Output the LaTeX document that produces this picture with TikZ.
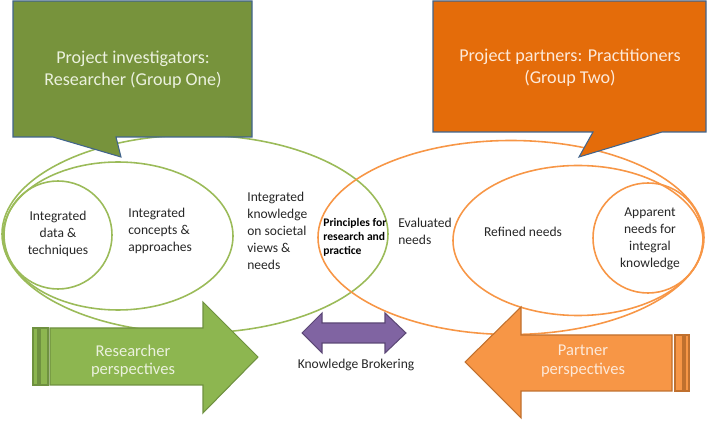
\documentclass[tikz,border=0pt]{standalone}
\usepackage{fontspec}
\setmainfont{Carlito}
\usetikzlibrary{positioning}
\definecolor{ink}{HTML}{262626}
\definecolor{leaf}{HTML}{9BBB59}
\definecolor{rust}{HTML}{F79646}
\definecolor{olivebox}{HTML}{77933C}
\definecolor{orangebox}{HTML}{E46C0A}
\definecolor{frame}{HTML}{41648C}
\definecolor{leafarrow}{HTML}{8DB650}
\definecolor{leafedge}{HTML}{6F9140}
\definecolor{rustedge}{HTML}{C0702E}
\definecolor{grape}{HTML}{8064A2}
\definecolor{grapeedge}{HTML}{5C4876}
\definecolor{paleleaf}{HTML}{EBF1DE}
\definecolor{palerust}{HTML}{FDE9D9}
\tikzset{
  ring/.style={line width=0.9pt},
  txt/.style={text=ink, inner sep=0pt, font=\fontsize{7.7}{9.7}\selectfont},
  big/.style={inner sep=0pt, align=center, font=\fontsize{10.3}{12.5}\selectfont},
}
\begin{document}
\begin{tikzpicture}[x=0.2mm, y=-0.2mm]
  \useasboundingbox (0,0) rectangle (708,421);
  % researcher side
  \draw[ring, leaf] (195,234) ellipse [x radius=193, y radius=99];
  \draw[ring, leaf] (118,236) ellipse [x radius=115, y radius=74];
  \draw[ring, leaf] (58,235) ellipse [x radius=54, y radius=54];
  % partner side
  \draw[ring, rust] (511,237.5) ellipse [x radius=193, y radius=97];
  \draw[ring, rust] (578,240.5) ellipse [x radius=125, y radius=75];
  \draw[ring, rust] (648,238) ellipse [x radius=55, y radius=55];
  % callouts
  \fill[olivebox, draw=frame, line width=0.6pt] (13,1) -- (252,1) -- (252,137) -- (116,137)
    -- (121,157) -- (53,137) -- (13,137) -- cycle;
  \fill[orangebox, draw=frame, line width=0.6pt] (433,1) -- (706,1) -- (706,132) -- (662,132)
    -- (579,157) -- (593,132) -- (433,132) -- cycle;
  \node[big, text=paleleaf] (grp1) at (133,70) {Project investigators:\\Researcher (Group One)};
  \node[big, text=palerust] (grp2) at (570,68) {Project partners: Practitioners\\(Group Two)};
  % perspective arrows
  \fill[leafarrow, draw=leafedge, line width=0.6pt] (50,328) -- (203,328) -- (203,302) -- (258,357)
    -- (203,413) -- (203,385) -- (50,385) -- cycle;
  \fill[leafarrow, draw=leafedge, line width=0.6pt] (33,328) rectangle (38,385);
  \fill[leafarrow, draw=leafedge, line width=0.6pt] (40,328) rectangle (48,385);
  \fill[rust, draw=rustedge, line width=0.6pt] (465,362) -- (521,307) -- (521,335) -- (672,335)
    -- (672,391) -- (521,391) -- (521,418) -- cycle;
  \fill[rust, draw=rustedge, line width=0.6pt] (675,335) rectangle (683,391);
  \fill[rust, draw=rustedge, line width=0.6pt] (685,335) rectangle (689,391);
  \fill[grape, draw=grapeedge, line width=0.6pt] (302,333) -- (322,313) -- (322,323) -- (385,323)
    -- (385,313) -- (406,333) -- (385,353) -- (385,343) -- (322,343) -- (322,353) -- cycle;
  \node[big, text=paleleaf, font=\fontsize{9.4}{10.4}\selectfont] (resp) at (133,361) {Researcher\\perspectives};
  \node[big, text=palerust, font=\fontsize{9.4}{10.4}\selectfont] (parp) at (583,361) {Partner\\perspectives};
  \node[txt] (brok) at (356,365) {Knowledge Brokering};
  % texts in the rings
  \node[txt, align=center] (data) at (58,234) {Integrated\\data \&\\techniques};
  \node[txt, align=left, anchor=west] (conc) at (128,231) {Integrated\\concepts \&\\approaches};
  \node[txt, align=left, anchor=west] (soc) at (247,231) {Integrated\\knowledge\\on societal\\views \&\\needs};
  \node[txt, align=left, anchor=west, font=\bfseries\fontsize{6.6}{8}\selectfont, text=black] (prin) at (323,237)
    {Principles for\\research and\\practice};
  \node[txt, align=left, anchor=west] (eval) at (398,231) {Evaluated\\needs};
  \node[txt] (refn) at (523,232) {Refined needs};
  \node[txt, align=center] (appn) at (650,239) {Apparent\\needs for\\integral\\knowledge};
\end{tikzpicture}
\end{document}
